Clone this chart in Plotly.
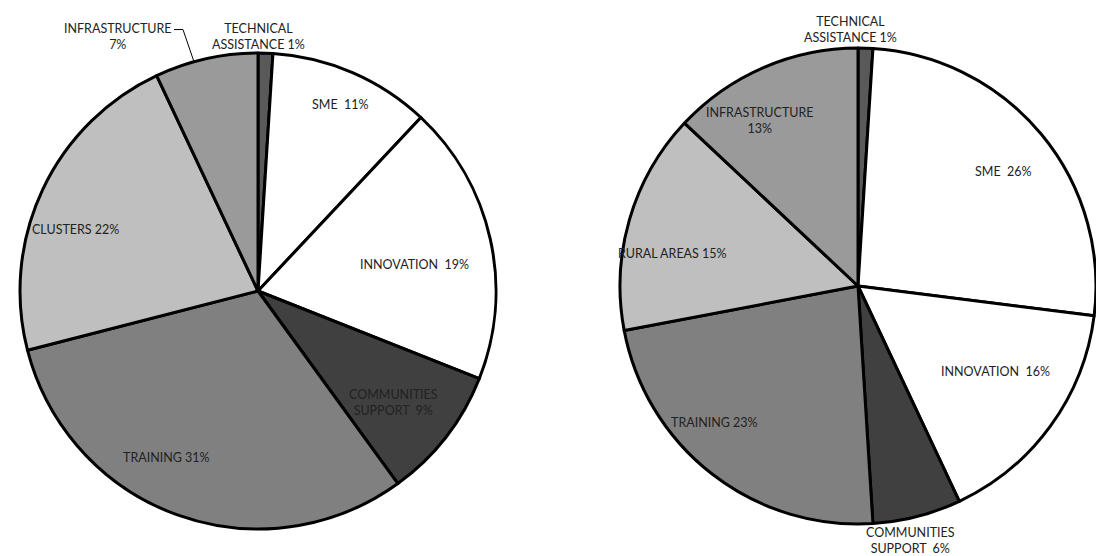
import math
import plotly.graph_objects as go

W, H = 1096, 556

# ---- data ----
left_names = ["TECHNICAL<br>ASSISTANCE", "SME", "INNOVATION", "COMMUNITIES<br>SUPPORT",
              "TRAINING", "CLUSTERS", "INFRASTRUCTURE"]
left_values = [1, 11, 19, 9, 31, 22, 7]

right_names = ["TECHNICAL<br>ASSISTANCE", "SME", "INNOVATION", "COMMUNITIES<br>SUPPORT",
               "TRAINING", "RURAL AREAS", "INFRASTRUCTURE"]
right_values = [1, 26, 16, 6, 23, 15, 13]

# ---- styles ----
left_colors = ["#595959", "#ffffff", "#ffffff", "#404040", "#808080", "#bfbfbf", "#9a9a9a"]
right_colors = ["#595959", "#ffffff", "#ffffff", "#404040", "#808080", "#bfbfbf", "#9a9a9a"]
left_seps = [" ", "\u00a0\u00a0", "\u00a0\u00a0", "\u00a0\u00a0", " ", " ", "<br>"]
right_seps = [" ", "\u00a0\u00a0", "\u00a0\u00a0", "\u00a0\u00a0", " ", " ", "<br>"]

# label placement: angle offset from slice middle (deg) and radius fraction
left_dtheta = [-1.8, 0.6, 3.1, 1.6, 9.0, -6.5, -16.2]
left_rfrac = [1.07, 0.857, 0.665, 0.735, 0.80, 0.81, 1.22]
right_dtheta = [-3.4, 1.4, -4.0, 2.7, 8.6, -6.2, -7.2]
right_rfrac = [1.08, 0.78, 0.68, 1.09, 0.83, 0.79, 0.81]

# pie geometry (pixels)
left_center = (258, 291)
right_center = (858, 286)
radius = 238

FONT = dict(family="Lato, 'Open Sans', sans-serif", size=12.5, color="#222222")


def domain(center, r):
    cx, cy = center
    cyb = H - cy
    return dict(x=[max(0, (cx - r) / W), min(1, (cx + r) / W)],
                y=[max(0, (cyb - r) / H), min(1, (cyb + r) / H)])


def mid_angles(values):
    tot = sum(values)
    out, c = [], 0
    for v in values:
        out.append((c + v / 2) / tot * 360)
        c += v
    return out


fig = go.Figure()
annotations = []
shapes = []

for names, vals, cols, seps, dth, rf, center in [
    (left_names, left_values, left_colors, left_seps, left_dtheta, left_rfrac, left_center),
    (right_names, right_values, right_colors, right_seps, right_dtheta, right_rfrac, right_center),
]:
    fig.add_trace(go.Pie(
        labels=[n.replace("<br>", " ") for n in names],
        values=vals,
        sort=False,
        direction="clockwise",
        rotation=0,
        textinfo="none",
        hoverinfo="label+percent",
        marker=dict(colors=cols, line=dict(color="#000000", width=3)),
        domain=domain(center, radius),
        showlegend=False,
    ))
    mids = mid_angles(vals)
    tot = sum(vals)
    for n, v, s, m, d, f in zip(names, vals, seps, mids, dth, rf):
        th = math.radians(m + d)
        px = center[0] + f * radius * math.sin(th)
        py = center[1] - f * radius * math.cos(th)
        pct = round(v / tot * 100)
        annotations.append(dict(
            x=px / W, y=1 - py / H, xref="paper", yref="paper",
            text=f"{n}{s}{pct}%", showarrow=False, font=FONT,
            xanchor="center", yanchor="middle", align="center",
        ))

# leader line for the left INFRASTRUCTURE label
li = len(left_values) - 1
m = mid_angles(left_values)[li] - 3
th = math.radians(m)
ex = left_center[0] + radius * math.sin(th)
ey = left_center[1] - radius * math.cos(th)
th_lab = math.radians(mid_angles(left_values)[li] + left_dtheta[li])
ly = left_center[1] - left_rfrac[li] * radius * math.cos(th_lab) - 7
kx = ex - 11
sx = kx - 9
shapes.append(dict(
    type="path", xref="paper", yref="paper",
    path=f"M {sx / W},{1 - ly / H} L {kx / W},{1 - ly / H} L {ex / W},{1 - ey / H}",
    line=dict(color="#000000", width=1),
))

fig.update_layout(
    width=W, height=H,
    margin=dict(l=0, r=0, t=0, b=0),
    paper_bgcolor="#ffffff",
    plot_bgcolor="#ffffff",
    annotations=annotations,
    shapes=shapes,
    showlegend=False,
)

fig.write_html("out.html")
